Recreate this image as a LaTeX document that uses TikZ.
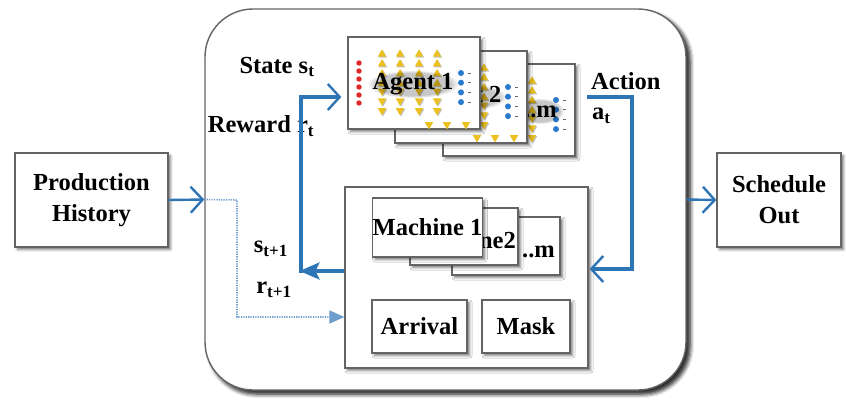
\documentclass[tikz,border=0pt]{standalone}
\usepackage{fontspec}
\setmainfont{Liberation Serif}
\usetikzlibrary{arrows.meta,shadows.blur,fadings}
\definecolor{flowblue}{RGB}{46,117,182}
\definecolor{boxline}{RGB}{100,100,100}
\definecolor{neury}{RGB}{236,192,30}
\definecolor{neurr}{RGB}{222,38,38}
\definecolor{neurb}{RGB}{40,122,205}

\tikzset{
  panel/.style={draw=boxline, line width=1.2pt, fill=white, inner sep=0pt,
    blur shadow={shadow xshift=2.5pt, shadow yshift=-2.5pt, shadow blur radius=2.5pt, shadow opacity=55}},
  txt/.style={font=\fontsize{24.5}{31}\selectfont\bfseries, align=center, inner sep=0pt},
  flow/.style={draw=flowblue, line width=3.2pt},
  barb/.style={-{Straight Barb[length=12pt,width=26pt,line width=2.4pt]}},
  solidtip/.style={-{Stealth[length=20pt,width=17pt,inset=4pt]}},
  feed/.style={draw=flowblue!70, line width=1.6pt, dash pattern=on 1.2pt off 1.2pt,
    -{Triangle[length=15pt,width=13pt]}},
  glow/.style={fill=black, opacity=.22, path fading=circle with fuzzy edge 20 percent},
  % one stacked neural-network sketch, origin at the box's top-left corner
  agentnet/.pic={
    \foreach \k in {0,...,5} \fill[neurr] (11,26+8*\k) circle (2.7);
    \foreach \cx in {34,52,71,89}{
      \foreach \k in {0,...,3}{
        \fill[black!25] (\cx-4.2+1,16+9.8*\k+3.6+1) -- (\cx+1,16+9.8*\k-3.6+1) -- (\cx+4.2+1,16+9.8*\k+3.6+1) -- cycle;
        \fill[neury] (\cx-4.2,16+9.8*\k+3.6) -- (\cx,16+9.8*\k-3.6) -- (\cx+4.2,16+9.8*\k+3.6) -- cycle;}
      \foreach \k in {4,...,6}{
        \fill[black!25] (\cx-4.2+1,16+9.8*\k-3.6+1) -- (\cx+1,16+9.8*\k+3.6+1) -- (\cx+4.2+1,16+9.8*\k-3.6+1) -- cycle;
        \fill[neury] (\cx-4.2,16+9.8*\k-3.6) -- (\cx,16+9.8*\k+3.6) -- (\cx+4.2,16+9.8*\k-3.6) -- cycle;}
    }
    \foreach \k in {0,...,3}{
      \fill[neurb] (113,36+9.7*\k) circle (3);
      \draw[black!60, line width=.9pt] (120,36+9.7*\k) -- (123,36+9.7*\k);
    }
  },
  % last row of down-pointing markers of a net
  netfoot/.pic={
    \foreach \cx in {34,52,71}
      \fill[neury] (\cx-4.2,74.8-3.6) -- (\cx,74.8+3.6) -- (\cx+4.2,74.8-3.6) -- cycle;
  }
}

\begin{document}
\begin{tikzpicture}[x=1pt,y=-1pt]
\useasboundingbox (0,0) rectangle (846,399);

% outer environment frame
\node[panel, rounded corners=48pt, line width=1.4pt, minimum width=481pt, minimum height=381pt,
  blur shadow={shadow xshift=4pt, shadow yshift=-4pt, shadow blur radius=4pt, shadow opacity=60}] (frame) at (445.5,199.5) {};

% input and output
\node[panel, minimum width=153pt, minimum height=94pt, txt] (hist) at (91.5,200) {Production\\History};
\node[panel, minimum width=124pt, minimum height=94pt, txt] (sched) at (779,200) {Schedule\\Out};

% agents, back to front
\node[panel, minimum width=132pt, minimum height=92pt] (am) at (509,110) {};
\pic at (443,64) {agentnet};
\fill[glow] (540,111) ellipse [x radius=24, y radius=13];
\node[txt, anchor=east] (amt) at (557,112) {Agent ..m};

\node[panel, minimum width=132pt, minimum height=92pt] (a2) at (461,97) {};
\pic at (395,51) {agentnet};
\fill[glow] (461,97) ellipse [x radius=46, y radius=14];
\node[txt] (a2t) at (461,97) {Agent 2};
\pic at (443,64) {netfoot};

\node[panel, minimum width=132pt, minimum height=92pt] (a1) at (414,83) {};
\pic at (348,37) {agentnet};
\fill[glow] (413,84) ellipse [x radius=46, y radius=14];
\node[txt] (a1t) at (413,84) {Agent 1};
\pic at (395,51) {netfoot};

% environment
\node[panel, minimum width=243pt, minimum height=181pt] (env) at (466.5,277.5) {};
\node[panel, minimum width=108pt, minimum height=58pt] (mm) at (506,246) {};
\node[txt, anchor=east] (mmt) at (555,249) {Machine ..m};
\node[panel, minimum width=108pt, minimum height=57pt] (m2) at (464,236.5) {};
\node[txt, anchor=east] (m2t) at (516,240) {Machine2};
\node[panel, minimum width=109pt, minimum height=59pt, txt] (m1) at (427.5,227.5) {Machine 1};
\node[panel, minimum width=95pt, minimum height=53pt, txt] (arr) at (419.5,326.5) {Arrival};
\node[panel, minimum width=88pt, minimum height=53pt, txt] (mask) at (526,326.5) {Mask};

% labels
\node[txt] (st) at (277,67) {State s\textsubscript{t}};
\node[txt] (rt) at (261,126) {Reward r\textsubscript{t}};
\node[txt, anchor=west] (act) at (591,81) {Action};
\node[txt, anchor=west] (at) at (592,116) {a\textsubscript{t}};
\node[txt] (st1) at (271,249) {s\textsubscript{t+1}};
\node[txt] (rt1) at (274,290) {r\textsubscript{t+1}};

% connectors
\coordinate (fb) at (301,271);
\coordinate (up) at (301,97);
\coordinate (aout) at (587,97);
\coordinate (rdrop) at (632,97);
\coordinate (rin) at (632,269);
\coordinate (dtop) at (237,200);
\coordinate (dbot) at (237,317);

\draw[flow, barb, line width=2.4pt] (hist.east) -- (frame.west);
\draw[flow, barb, line width=2.4pt] (frame.east) -- (sched.west);
\draw[feed] (frame.west) -- (dtop) -- (dbot) -- (dbot -| env.west);
\draw[flow, solidtip] (env.west |- fb) -- ([xshift=-1.5pt]fb);
\draw[flow, barb] ([yshift=-1.6pt]fb) -- (up) -- ([xshift=-6pt]a1.west |- up);
\draw[flow, barb] (aout) -- (rdrop) -- (rin) -- ([xshift=1pt]env.east |- rin);
\end{tikzpicture}
\end{document}
